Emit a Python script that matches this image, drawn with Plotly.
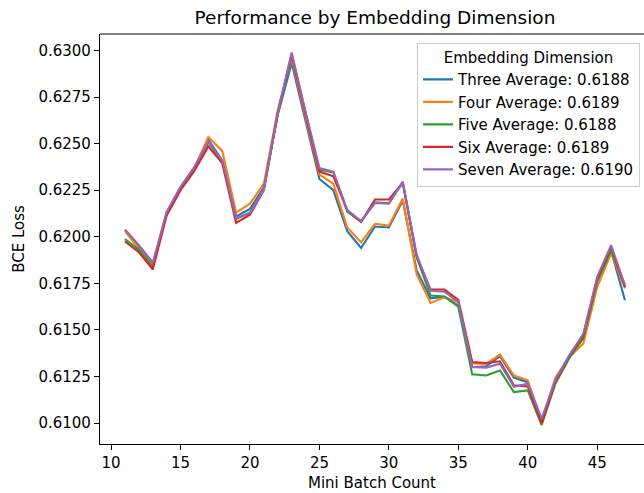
import plotly.graph_objects as go

batch = [11, 12, 13, 14, 15, 16, 17, 18, 19, 20, 21, 22, 23, 24, 25, 26, 27, 28, 29,
         30, 31, 32, 33, 34, 35, 36, 37, 38, 39, 40, 41, 42, 43, 44, 45, 46, 47]

three = [0.62036, 0.61950, 0.61845, 0.62130, 0.62265, 0.62372, 0.62522, 0.62410, 0.62109,
         0.62150, 0.62265, 0.62655, 0.62932, 0.62625, 0.62310, 0.62250, 0.62030, 0.61940,
         0.62055, 0.62050, 0.62195, 0.61820, 0.61670, 0.61678, 0.61630, 0.61300, 0.61305,
         0.61360, 0.61245, 0.61220, 0.61010, 0.61230, 0.61362, 0.61465, 0.61765, 0.61925,
         0.61660]
four = [0.62030, 0.61938, 0.61840, 0.62128, 0.62262, 0.62370, 0.62535, 0.62461, 0.62130,
        0.62178, 0.62285, 0.62680, 0.62960, 0.62640, 0.62334, 0.62285, 0.62050, 0.61970,
        0.62070, 0.62060, 0.62205, 0.61800, 0.61645, 0.61675, 0.61650, 0.61320, 0.61318,
        0.61368, 0.61256, 0.61230, 0.61010, 0.61245, 0.61355, 0.61427, 0.61730, 0.61911,
        0.61723]
five = [0.61988, 0.61930, 0.61835, 0.62125, 0.62260, 0.62368, 0.62508, 0.62405, 0.62095,
        0.62130, 0.62258, 0.62660, 0.62975, 0.62660, 0.62360, 0.62345, 0.62135, 0.62080,
        0.62185, 0.62180, 0.62290, 0.61890, 0.61685, 0.61680, 0.61625, 0.61262, 0.61256,
        0.61283, 0.61167, 0.61176, 0.60990, 0.61213, 0.61350, 0.61455, 0.61760, 0.61925,
        0.61740]
six = [0.61975, 0.61917, 0.61825, 0.62115, 0.62250, 0.62355, 0.62485, 0.62395, 0.62075,
       0.62119, 0.62250, 0.62665, 0.62980, 0.62655, 0.62350, 0.62325, 0.62144, 0.62080,
       0.62200, 0.62200, 0.62290, 0.61895, 0.61717, 0.61717, 0.61662, 0.61328, 0.61323,
       0.61332, 0.61203, 0.61197, 0.61000, 0.61225, 0.61360, 0.61470, 0.61775, 0.61945,
       0.61730]
seven = [0.62039, 0.61955, 0.61862, 0.62133, 0.62268, 0.62375, 0.62512, 0.62409, 0.62100,
         0.62128, 0.62255, 0.62665, 0.62989, 0.62670, 0.62369, 0.62350, 0.62144, 0.62085,
         0.62181, 0.62178, 0.62296, 0.61905, 0.61710, 0.61705, 0.61650, 0.61301, 0.61298,
         0.61319, 0.61195, 0.61212, 0.61025, 0.61235, 0.61365, 0.61480, 0.61785, 0.61955,
         0.61740]

series_names = ["Three Average: 0.6188", "Four Average: 0.6189", "Five Average: 0.6188",
                "Six Average: 0.6189", "Seven Average: 0.6190"]
series_values = [three, four, five, six, seven]
colors = ["#1f77b4", "#ff7f0e", "#2ca02c", "#d62728", "#9467bd"]

FONT = "DejaVu Sans"
fig = go.Figure()
for name, vals, col in zip(series_names, series_values, colors):
    fig.add_trace(go.Scatter(x=batch, y=vals, mode="lines", name=name,
                             line=dict(color=col, width=2.1)))

fig.update_layout(
    width=644, height=493,
    margin=dict(l=100, r=0, t=34, b=49),
    paper_bgcolor="white", plot_bgcolor="white",
    font=dict(family=FONT, size=15, color="black"),
    title=dict(text="Performance by Embedding Dimension", x=375/644, xref="container",
               xanchor="center", y=1 - 18/493, yref="container", yanchor="middle",
               font=dict(size=18.5, family=FONT, color="black")),
    showlegend=True,
    legend=dict(
        title=dict(text="Embedding Dimension", side="top center", font=dict(size=15)),
        x=0.9926, xanchor="right", y=0.979, yanchor="top",
        bgcolor="rgba(255,255,255,0.8)", bordercolor="#cccccc", borderwidth=1,
        font=dict(size=15, family=FONT),
    ),
    xaxis=dict(
        range=[9.2, 48.37], tickmode="linear", tick0=10, dtick=5,
        showgrid=False, zeroline=False, showline=True, linecolor="black", linewidth=1.2,
        ticks="outside", ticklen=5, tickwidth=1.2, tickcolor="black",
        title=dict(text="Mini Batch Count", standoff=6, font=dict(size=15)),
    ),
    yaxis=dict(
        range=[0.608882, 0.630882], tickmode="linear", tick0=0.61, dtick=0.0025,
        tickformat=".4f",
        showgrid=False, zeroline=False, showline=True, linecolor="black", linewidth=1.2,
        ticks="outside", ticklen=5, tickwidth=1.2, tickcolor="black",
        title=dict(text="BCE Loss", standoff=10, font=dict(size=15)),
    ),
)
# top spine (the right spine lies just outside the cropped picture)
fig.add_shape(type="line", xref="paper", yref="paper", x0=0, x1=1, y0=1, y1=1,
              line=dict(color="black", width=1.2))

fig.write_html("out.html", config={"displayModeBar": False},
               post_script="document.body.style.margin='0';")
